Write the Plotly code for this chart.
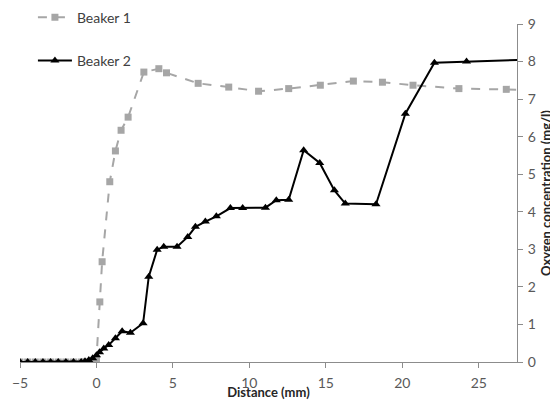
import plotly.graph_objects as go

# Beaker 1 (grey squares, dashed line)
b1_x = [-5, -4.5, -4, -3.5, -3, -2.5, -2, -1.5, -1, -0.75, -0.5, -0.25, 0.0,
        0.22, 0.37, 0.87, 1.24, 1.61, 2.07, 3.1, 4.08, 4.58, 6.65, 8.65, 10.6,
        12.57, 14.64, 16.8, 18.7, 20.7, 23.7, 26.8, 29.0]
b1_y = [0, 0, 0, 0, 0, 0, 0, 0, 0, 0, 0, 0.02, 0.08,
        1.6, 2.67, 4.8, 5.62, 6.17, 6.52, 7.72, 7.81, 7.7, 7.42, 7.32, 7.21,
        7.28, 7.37, 7.48, 7.45, 7.37, 7.28, 7.26, 7.24]

# Beaker 2 (black triangles, solid line)
b2_x = [-5, -4.5, -4, -3.5, -3, -2.5, -2, -1.5, -1, -0.75, -0.5, -0.25, 0.0,
        0.2, 0.48, 0.8, 1.24, 1.68, 2.22, 3.05, 3.42, 3.97, 4.4, 5.27, 5.97,
        6.47, 7.12, 7.84, 8.76, 9.56, 11.05, 11.76, 12.57, 13.55, 14.6, 15.56,
        16.27, 18.28, 20.2, 22.1, 24.2, 29.0]
b2_y = [0, 0, 0, 0, 0, 0, 0, 0, 0, 0.02, 0.05, 0.1, 0.18,
        0.26, 0.36, 0.45, 0.63, 0.82, 0.78, 1.03, 2.27, 2.99, 3.07, 3.07, 3.33,
        3.6, 3.74, 3.88, 4.1, 4.1, 4.11, 4.31, 4.32, 5.64, 5.3, 4.57,
        4.22, 4.2, 6.61, 7.97, 8.0, 8.06]

x_ticks = [-5, 0, 5, 10, 15, 20, 25]
y_ticks = [0, 1, 2, 3, 4, 5, 6, 7, 8, 9]

FONT = "Lato"
GRID = "#8c8c8c"

fig = go.Figure()
fig.add_trace(go.Scatter(
    x=b1_x, y=b1_y, mode="lines+markers", name="Beaker 1", legendgroup="g1",
    line=dict(color="#a6a6a6", width=2, dash="dash"),
    marker=dict(symbol="square", size=7, color="#a6a6a6"),
))
fig.add_trace(go.Scatter(
    x=b2_x, y=b2_y, mode="lines+markers", name="Beaker 2", legendgroup="g2",
    line=dict(color="black", width=2),
    marker=dict(symbol="triangle-up", size=8, color="black"),
))

# page body has an 8px margin, so the figure is sized/offset to compensate
fig.update_layout(
    width=550, height=392,
    margin=dict(l=12, r=41, t=16, b=38, autoexpand=False),
    paper_bgcolor="white", plot_bgcolor="white",
    font=dict(family=FONT, size=14, color="#404040"),
    legend=dict(x=0.026, y=1.066, xanchor="left", yanchor="top", itemwidth=34,
                bgcolor="rgba(0,0,0,0)", tracegroupgap=22,
                font=dict(family=FONT, size=14, color="#404040")),
    xaxis=dict(range=[-5, 27.5], tickvals=x_ticks, showgrid=False, zeroline=False,
               automargin=False,
               showline=True, linecolor=GRID, linewidth=1,
               ticks="outside", ticklen=5, tickcolor=GRID, ticklabelstandoff=3,
               tickfont=dict(family=FONT, size=14, color="#595959"),
               title=dict(text="<b>Distance (mm)</b>", standoff=4,
                          font=dict(family=FONT, size=13, color="#262626"))),
    yaxis=dict(range=[0, 9], tickvals=y_ticks, side="right", showgrid=False,
               zeroline=False, automargin=False, showline=True, linecolor=GRID,
               linewidth=1, ticks="outside", ticklen=5, tickcolor=GRID,
               ticklabelstandoff=2,
               tickfont=dict(family=FONT, size=14, color="#595959"),
               title=dict(text="<b>Oxygen concentration (mg/l)</b>", standoff=6,
                          font=dict(family=FONT, size=13, color="#262626"))),
)

fig.write_html("out.html")
